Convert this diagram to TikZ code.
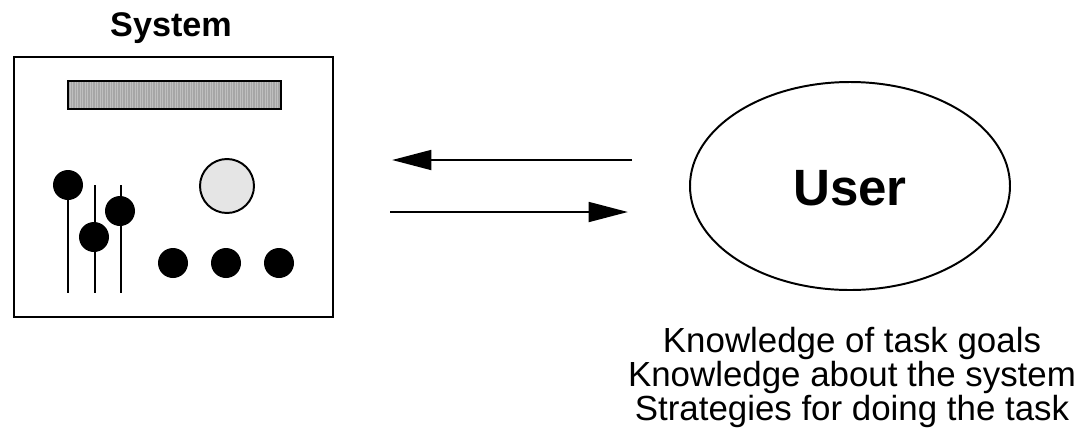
\documentclass[tikz,border=0pt]{standalone}
\usepackage{fontspec}
\setmainfont{Liberation Sans}
\usepackage{tikz}
\usetikzlibrary{positioning,shapes.geometric,arrows.meta}

\begin{document}
\begin{tikzpicture}[x=0.025cm,y=-0.025cm]
	\useasboundingbox (0,0) rectangle (1081,430);

	% Control panel
	\node[draw,line width=1.4pt,minimum width=319*0.025cm,minimum height=260*0.025cm,inner sep=0] (system) at (173.5,187) {};
	\node[font=\fontsize{24.3}{28}\selectfont\bfseries,anchor=base] (system_label) at (171,36) {System};

	% Display
	\fill[black!35] (68,81) rectangle (281,109);
	\foreach \x in {70,72.5,...,280}
		\draw[white!75!black,line width=0.6pt] (\x,82) -- (\x,108);
	\draw[line width=1.6pt] (68,81) rectangle (281,109);

	% Knob
	\node[circle,draw,line width=1.4pt,fill=black!10,minimum size=54*0.025cm,inner sep=0] (knob) at (227,186) {};

	% Sliders
	\begin{scope}[every node/.style={circle,fill=black,minimum size=30*0.025cm,inner sep=0}]
		\draw[line width=2pt] (68,185) -- (68,293);
		\draw[line width=2pt] (95,185) -- (95,293);
		\draw[line width=2pt] (121,185) -- (121,293);
		\node (slider1) at (68,185) {};
		\node (slider2) at (94,237) {};
		\node (slider3) at (120,211) {};

		% Buttons
		\node (button1) at (173,263) {};
		\node (button2) at (226,263) {};
		\node (button3) at (279,263) {};
	\end{scope}

	% User
	\node[draw,ellipse,line width=1.4pt,minimum width=320*0.025cm,minimum height=208*0.025cm,inner sep=0] (user) at (850,186) {};
	\node[font=\fontsize{36.3}{40}\selectfont\bfseries,anchor=base] (user_label) at (850,205) {User};

	\node[font=\fontsize{24.8}{21.3}\selectfont,align=center,anchor=north,inner sep=0] (knowledge) at (852,327)
		{Knowledge of task goals\\Knowledge about the system\\Strategies for doing the task};

	% Interaction
	\coordinate (out_start) at (632,160);
	\coordinate (out_end) at (392,160);
	\coordinate (in_start) at (390,212);
	\coordinate (in_end) at (628,212);
	\draw[line width=2pt,-{Triangle[length=28pt,width=14pt]}] (out_start) -- (out_end);
	\draw[line width=2pt,-{Triangle[length=28pt,width=14pt]}] (in_start) -- (in_end);
\end{tikzpicture}
\end{document}
